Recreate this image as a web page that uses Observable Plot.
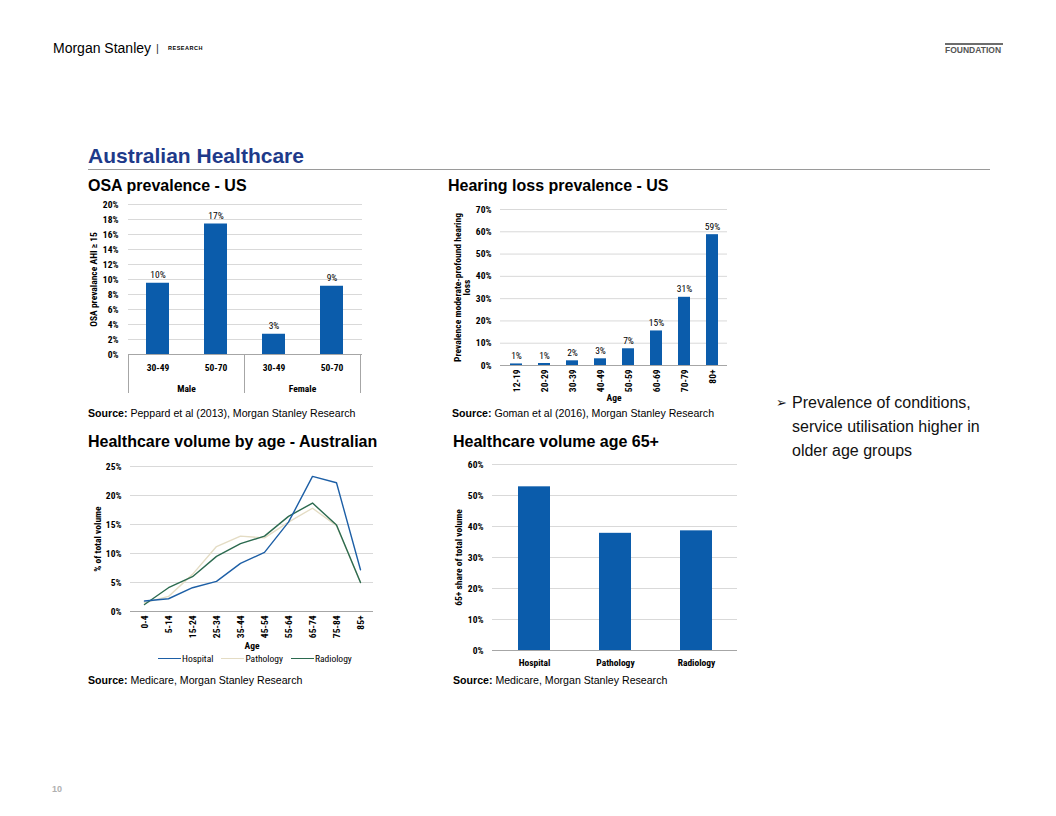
<!DOCTYPE html>
<html>
<head>
<meta charset="utf-8">
<script src="https://cdn.jsdelivr.net/npm/d3@7"></script>
<script src="https://cdn.jsdelivr.net/npm/@observablehq/plot@0.6"></script>
<style>
  body { margin: 0; background: #fff; }
  #page { position: relative; width: 1056px; height: 816px; overflow: hidden; font-family: "Liberation Sans", Arial, sans-serif; color: #000; }
  .abs { position: absolute; white-space: nowrap; }
  .ctitle { font-size: 16px; font-weight: bold; line-height: 18px; }
  .src { font-size: 10.6px; line-height: 14px; }
  .chart svg { display: block; overflow: visible; }
  .legend { font-size: 9.5px; display: flex; align-items: center; }
  .legend .it { display: flex; align-items: center; margin-right: 8px; }
</style>
</head>
<body>
<div id="page">
  <div class="abs" style="left:53px;top:39px;font-size:14px;line-height:18px;">Morgan Stanley</div>
  <div class="abs" style="left:156px;top:40px;font-size:11px;line-height:16px;color:#333;">|</div>
  <div class="abs" style="left:168px;top:44px;font-size:5.5px;font-weight:bold;letter-spacing:0.5px;line-height:8px;">RESEARCH</div>
  <div class="abs" style="left:945px;top:43px;width:58px;height:0;border-top:2px solid #6d6d6d;"></div>
  <div class="abs" style="left:945px;top:45px;font-size:8.5px;font-weight:bold;color:#555;line-height:11px;">FOUNDATION</div>

  <div class="abs" style="left:88px;top:143px;font-size:21px;font-weight:bold;color:#1e3a8a;line-height:26px;">Australian Healthcare</div>
  <div class="abs" style="left:88px;top:169px;width:902px;height:0;border-top:1.5px solid #9a9a9a;"></div>

  <div class="abs ctitle" style="left:88px;top:177px;">OSA prevalence - US</div>
  <div class="abs ctitle" style="left:448px;top:177px;">Hearing loss prevalence - US</div>
  <div class="abs ctitle" style="left:88px;top:433px;">Healthcare volume by age - Australian</div>
  <div class="abs ctitle" style="left:453px;top:433px;">Healthcare volume age 65+</div>

  <div id="c1" class="abs chart" style="left:80px;top:195px;"></div>
  <div id="c2" class="abs chart" style="left:440px;top:198px;"></div>
  <div id="c3" class="abs chart" style="left:80px;top:455px;"></div>
  <div id="c4" class="abs chart" style="left:440px;top:455px;"></div>
  <div id="leg3" class="abs legend" style="left:158px;top:653px;"></div>

  <div class="abs src" style="left:88px;top:406px;"><b>Source:</b> Peppard et al (2013), Morgan Stanley Research</div>
  <div class="abs src" style="left:452px;top:406px;"><b>Source:</b> Goman et al (2016), Morgan Stanley Research</div>
  <div class="abs src" style="left:88px;top:673px;"><b>Source:</b> Medicare, Morgan Stanley Research</div>
  <div class="abs src" style="left:453px;top:673px;"><b>Source:</b> Medicare, Morgan Stanley Research</div>

  <div class="abs" style="left:776px;top:391px;font-size:16px;line-height:24px;color:#111;">
    <span style="font-family:'DejaVu Sans',sans-serif;font-size:13px;position:relative;top:-1px;">&#x27A2;</span>
  </div>
  <div class="abs" style="left:792px;top:391px;font-size:16px;line-height:24px;color:#111;">Prevalence of conditions,<br>service utilisation higher in<br>older age groups</div>

  <div class="abs" style="left:52px;top:784px;font-size:9px;color:#b0b0b0;font-weight:bold;">10</div>
</div>
<script>
// ---------------- DATA ----------------
const osaSex = ["Male", "Male", "Female", "Female"];
const osaAge = ["30-49", "50-70", "30-49", "50-70"];
const osaGroups = ["Male", "Female"];
const osaValues = [9.5, 17.4, 2.7, 9.1];
const osaLabels = ["10%", "17%", "3%", "9%"];
const osaTicks = [0, 2, 4, 6, 8, 10, 12, 14, 16, 18, 20];
const osaYLabel = "OSA prevalance AHI \u2265 15";

const hearingAges = ["12-19", "20-29", "30-39", "40-49", "50-59", "60-69", "70-79", "80+"];
const hearingValues = [0.7, 0.9, 2.1, 3.0, 7.5, 15.5, 30.6, 58.7];
const hearingLabels = ["1%", "1%", "2%", "3%", "7%", "15%", "31%", "59%"];
const hearingTicks = [0, 10, 20, 30, 40, 50, 60, 70];
const hearingYLabel = "Prevalence moderate-profound hearing\nloss";

const volumeAges = ["0-4", "5-14", "15-24", "25-34", "35-44", "45-54", "55-64", "65-74", "75-84", "85+"];
const volumeSeries = ["Hospital", "Pathology", "Radiology"];
const volumeColors = ["#1d5fa6", "#e4dcc4", "#2b6a4f"];
const hospitalValues = [1.8, 2.2, 4.1, 5.2, 8.3, 10.2, 15.4, 23.3, 22.2, 7.2];
const pathologyValues = [1.5, 2.6, 6.4, 11.2, 13.0, 12.7, 15.4, 17.8, 14.8, 5.0];
const radiologyValues = [1.2, 4.1, 6.0, 9.5, 11.7, 13.0, 16.4, 18.7, 14.9, 5.0];
const volumeTicks = [0, 5, 10, 15, 20, 25];
const volumeYLabel = "% of total volume";

const services = ["Hospital", "Pathology", "Radiology"];
const share65Values = [52.8, 37.8, 38.6];
const share65Ticks = [0, 10, 20, 30, 40, 50, 60];
const share65YLabel = "65+ share of total volume";

// ---------------- STYLE ----------------
const BLUE = "#0b5cab";
const GRID = "#d9d9d9";
const AXIS = "#a6a6a6";
const NARROW = '"Roboto Condensed", "Liberation Sans", sans-serif';
const baseStyle = {fontFamily: NARROW, fontSize: "9.5px", color: "#000", background: "transparent", overflow: "visible"};
const pct = d => d + "%";
const TW = "bold";

// ---------------- CHART 1 ----------------
const osaData = osaValues.map((v, i) => ({key: osaSex[i] + "|" + osaAge[i], sex: osaSex[i], age: osaAge[i], value: v, label: osaLabels[i]}));

function osaGroupBox(index, scales, values, dimensions) {
  const x = scales.x;
  const bw = x.bandwidth();
  const keys = osaData.map(d => d.key);
  const step = x(keys[1]) - x(keys[0]);
  const gap = (step - bw) / 2;
  const y0 = dimensions.height - dimensions.marginBottom;
  const g = d3.create("svg:g");
  const edges = [];
  osaGroups.forEach(grp => {
    const ks = osaData.filter(d => d.sex === grp).map(d => d.key);
    const left = x(ks[0]) - gap;
    const right = x(ks[ks.length - 1]) + bw + gap;
    edges.push(left, right);
    g.append("text").attr("x", (left + right) / 2).attr("y", y0 + 35)
      .attr("text-anchor", "middle").attr("dy", "0.32em")
      .attr("font-weight", TW).attr("fill", "#000").text(grp);
  });
  Array.from(new Set(edges)).forEach(ex => {
    g.append("line").attr("x1", ex).attr("x2", ex).attr("y1", y0).attr("y2", y0 + 39)
      .attr("stroke", AXIS).attr("stroke-width", 1);
  });
  return g.node();
}

const p1 = Plot.plot({
  width: 290, height: 215, marginLeft: 48, marginRight: 8, marginTop: 9, marginBottom: 56,
  style: baseStyle,
  x: {type: "band", domain: osaData.map(d => d.key), paddingInner: 0.6, paddingOuter: 0.3, label: null},
  y: {domain: [0, 20], label: null},
  marks: [
    Plot.gridY(osaTicks, {stroke: GRID, strokeOpacity: 1}),
    Plot.axisY(osaTicks, {tickFormat: pct, tickSize: 0, tickPadding: 10, fontWeight: TW, label: null}),
    Plot.barY(osaData, {x: "key", y: "value", fill: BLUE}),
    Plot.ruleY([0], {stroke: AXIS}),
    Plot.text(osaData, {x: "key", y: "value", text: "label", dy: -8}),
    Plot.axisX({tickSize: 0, tickPadding: 10, tickFormat: k => k.split("|")[1], fontWeight: TW, label: null}),
    Plot.text([osaYLabel], {frameAnchor: "left", textAnchor: "middle", rotate: -90, dx: -35, text: d => d, fontWeight: TW}),
    osaGroupBox
  ]
});
document.getElementById("c1").append(p1);

// ---------------- CHART 2 ----------------
const hearingData = hearingAges.map((a, i) => ({age: a, value: hearingValues[i], label: hearingLabels[i]}));
const p2 = Plot.plot({
  width: 295, height: 212, marginLeft: 60, marginRight: 8, marginTop: 11, marginBottom: 45,
  style: baseStyle,
  x: {type: "band", domain: hearingAges, paddingInner: 0.58, paddingOuter: 0.29, label: null},
  y: {domain: [0, 70], label: null},
  marks: [
    Plot.gridY(hearingTicks, {stroke: GRID, strokeOpacity: 1}),
    Plot.axisY(hearingTicks, {tickFormat: pct, tickSize: 0, tickPadding: 9, fontWeight: TW, label: null}),
    Plot.barY(hearingData, {x: "age", y: "value", fill: BLUE}),
    Plot.ruleY([0], {stroke: AXIS}),
    Plot.text(hearingData, {x: "age", y: "value", text: "label", dy: -8}),
    Plot.axisX({tickSize: 0, tickPadding: 4, tickRotate: -90, fontWeight: TW, label: null}),
    Plot.text(["Age"], {frameAnchor: "bottom", dy: 35, text: d => d, fontWeight: TW}),
    Plot.text([hearingYLabel], {frameAnchor: "left", textAnchor: "middle", rotate: -90, dx: -38, text: d => d, fontWeight: TW, lineHeight: 1.0})
  ]
});
document.getElementById("c2").append(p2);

// ---------------- CHART 3 ----------------
const seriesValues = [hospitalValues, pathologyValues, radiologyValues];
const volumeData = [];
[1, 2, 0].forEach(s => {
  volumeAges.forEach((a, i) => volumeData.push({series: volumeSeries[s], age: a, value: seriesValues[s][i]}));
});
const p3 = Plot.plot({
  width: 300, height: 200, marginLeft: 50, marginRight: 7, marginTop: 11, marginBottom: 44,
  style: baseStyle,
  x: {type: "point", domain: volumeAges, padding: 0.52, label: null},
  y: {domain: [0, 25], label: null},
  color: {domain: volumeSeries, range: volumeColors},
  marks: [
    Plot.gridY(volumeTicks, {stroke: GRID, strokeOpacity: 1}),
    Plot.axisY(volumeTicks, {tickFormat: pct, tickSize: 0, tickPadding: 9, fontWeight: TW, label: null}),
    Plot.ruleY([0], {stroke: AXIS}),
    Plot.line(volumeData, {x: "age", y: "value", z: "series", stroke: "series", strokeWidth: 1.4}),
    Plot.axisX({tickSize: 0, tickPadding: 4, tickRotate: -90, fontWeight: TW, label: null}),
    Plot.text(["Age"], {frameAnchor: "bottom", dy: 37, text: d => d, fontWeight: TW}),
    Plot.text([volumeYLabel], {frameAnchor: "left", textAnchor: "middle", rotate: -90, dx: -33, text: d => d, fontWeight: TW})
  ]
});
document.getElementById("c3").append(p3);

const leg = document.getElementById("leg3");
leg.style.fontFamily = NARROW;
volumeSeries.forEach((s, i) => {
  const it = document.createElement("span");
  it.className = "it";
  const sw = document.createElement("span");
  sw.style.display = "inline-block";
  sw.style.width = "23px";
  sw.style.height = "1.5px";
  sw.style.background = volumeColors[i];
  sw.style.marginRight = "1px";
  it.append(sw, document.createTextNode(s));
  leg.append(it);
});

// ---------------- CHART 4 ----------------
const shareData = services.map((s, i) => ({service: s, value: share65Values[i]}));
const p4 = Plot.plot({
  width: 305, height: 220, marginLeft: 52, marginRight: 8, marginTop: 9, marginBottom: 25,
  style: baseStyle,
  x: {type: "band", domain: services, paddingInner: 0.61, paddingOuter: 0.305, label: null},
  y: {domain: [0, 60], label: null},
  marks: [
    Plot.gridY(share65Ticks, {stroke: GRID, strokeOpacity: 1}),
    Plot.axisY(share65Ticks, {tickFormat: pct, tickSize: 0, tickPadding: 9, fontWeight: TW, label: null}),
    Plot.barY(shareData, {x: "service", y: "value", fill: BLUE}),
    Plot.ruleY([0], {stroke: AXIS}),
    Plot.axisX({tickSize: 0, tickPadding: 9, fontWeight: TW, label: null}),
    Plot.text([share65YLabel], {frameAnchor: "left", textAnchor: "middle", rotate: -90, dx: -34, text: d => d, fontWeight: TW})
  ]
});
document.getElementById("c4").append(p4);
</script>
</body>
</html>
